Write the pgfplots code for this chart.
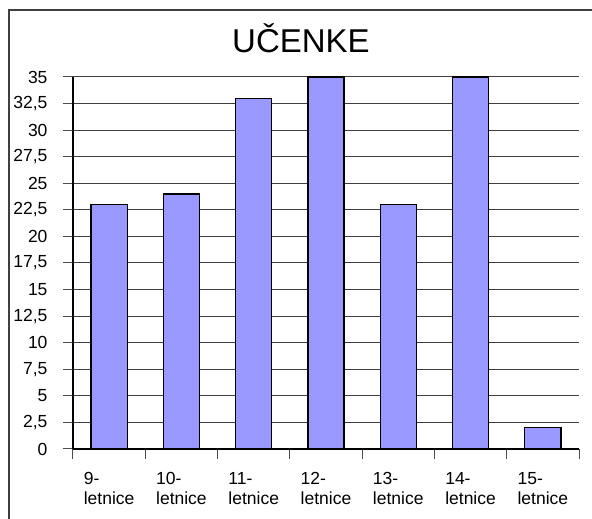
\documentclass[border=0pt]{standalone}
\usepackage{fontspec}
\setmainfont{Liberation Sans}
\usepackage{pgfplots}
\pgfplotsset{compat=1.18}
\definecolor{barfill}{HTML}{9999FF}
\begin{document}
\begin{tikzpicture}[x=1pt,y=1pt]
\useasboundingbox (0,0) rectangle (592,519);
\draw[black!75, line width=1.2pt] (9,0) -- (9,509) -- (592,509);
\node[font=\fontsize{33}{38}\selectfont] at (301,481) {UČENKE};
\begin{axis}[
  at={(73pt,70pt)}, anchor=south west,
  scale only axis, width=506pt, height=372pt,
  xmin=-0.5, xmax=6.5, ymin=0, ymax=35,
  axis lines*=left,
  axis line style={line width=1.6pt, black},
  xtick={0,...,6},
  xticklabels={{9-\\letnice},{10-\\letnice},{11-\\letnice},{12-\\letnice},{13-\\letnice},{14-\\letnice},{15-\\letnice}},
  minor xtick={-0.5,0.5,...,6.5},
  major x tick style={draw=none},
  minor x tick style={black!70, line width=1pt},
  minor tick length=10pt,
  ytick={0,2.5,...,35},
  major tick length=10pt,
  tick align=outside,
  y tick style={black!70, line width=1pt},
  ymajorgrids,
  major grid style={black!75, line width=1pt},
  /pgf/number format/assume math mode=true,
  /pgf/number format/use comma,
  /pgf/number format/1000 sep={},
  yticklabel style={font=\fontsize{17.5}{20}\selectfont, xshift=-12pt},
  xticklabel style={font=\fontsize{17.5}{20}\selectfont, align=left, yshift=-10pt},
  ybar, bar width=0.5,
  enlargelimits=false,
  clip=false,
]
\addplot[fill=barfill, draw=black, line width=1.2pt] coordinates {
(0,23) (1,24) (2,33) (3,35) (4,23) (5,35) (6,2)
};
\end{axis}
\end{tikzpicture}
\end{document}
